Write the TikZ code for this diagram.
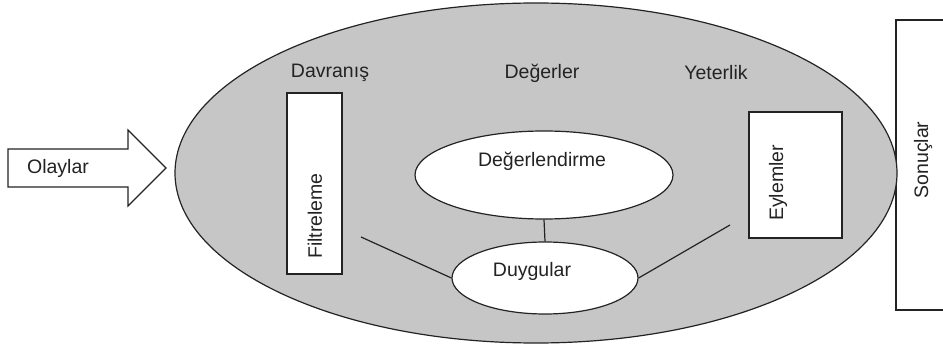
\documentclass[tikz,border=0pt]{standalone}
\usepackage{fontspec}
\setmainfont{Liberation Sans}
\usetikzlibrary{shapes.geometric}
\definecolor{shade}{RGB}{198,198,198}
\definecolor{ink}{RGB}{35,35,35}
\tikzset{
  every node/.style={font=\fontsize{19.5}{22}\selectfont, text=ink},
  outline/.style={draw=ink, line width=1.2pt},
  whitebox/.style={outline, fill=white, rectangle, inner sep=0pt},
  whiteoval/.style={outline, fill=white, ellipse, inner sep=0pt},
  vtext/.style={rotate=90, inner sep=0pt},
  link/.style={draw=ink, line width=1.2pt}
}
\begin{document}
\begin{tikzpicture}[x=1pt,y=-1pt]
\useasboundingbox (0,0) rectangle (943,350);
% Sonuclar box (right side cut by page edge)
\node[whitebox, minimum width=54pt, minimum height=290pt] (son) at (923,165) {};
\node[vtext] (sontext) at (923,160) {Sonuçlar};
% big ellipse
\node[outline, fill=shade, ellipse, inner sep=0pt, minimum width=722pt, minimum height=340pt] (big) at (536,173) {};
% Olaylar arrow
\draw[outline, fill=white] (8,149) -- (128,149) -- (128,130) -- (166,168) -- (128,206) -- (128,187) -- (8,187) -- cycle;
\node (olay) at (58,168) {Olaylar};
% headings
\node (davr) at (330,73) {Davranış};
\node (deg) at (542,73) {Değerler};
\node (yet) at (716,73) {Yeterlik};
% Filtreleme
\node[whitebox, minimum width=55pt, minimum height=181pt] (filt) at (314.5,183.5) {};
\node[vtext] (filttext) at (315,216) {Filtreleme};
% Eylemler
\node[whitebox, minimum width=93pt, minimum height=126pt] (eyl) at (795.5,175) {};
\node[vtext] (eyltext) at (778,183) {Eylemler};
% ovals
\node[whiteoval, minimum width=258pt, minimum height=88pt] (degl) at (544,175) {};
\node (degltext) at (542,161) {Değerlendirme};
\node[whiteoval, minimum width=186pt, minimum height=72pt] (duy) at (545,278) {};
\node (duytext) at (532,271) {Duygular};
% connectors
\coordinate (lf) at (361,237);
\coordinate (rf) at (730,225);
\draw[link] (degl.south) -- (duy.north);
\draw[link] (lf) -- (duy.west);
\draw[link] (rf) -- (duy.east);
\end{tikzpicture}
\end{document}
